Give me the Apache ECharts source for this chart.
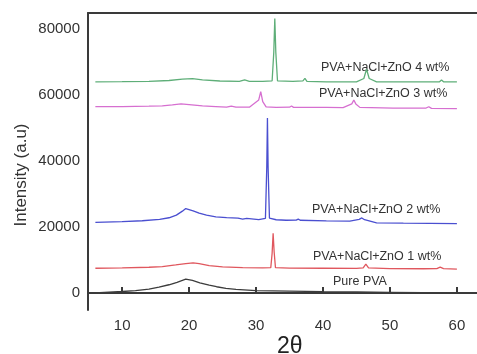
<!DOCTYPE html>
<html>
<head>
<meta charset="utf-8">
<script src="https://cdn.jsdelivr.net/npm/echarts@6/dist/echarts.min.js"></script>
<style>
  html, body { margin: 0; padding: 0; background: #fff; }
  #chart { width: 477px; height: 354px; }
</style>
</head>
<body>
<div id="chart"></div>
<script>
// XRD patterns, 2-theta vs intensity (offset stacked as in the figure)
const xTicks = [10, 20, 30, 40, 50, 60]
const yTicks = [0, 20000, 40000, 60000, 80000]

const pvaTheta = [6, 8, 10, 12, 14, 15.5, 17, 18.2, 19.5, 20.5, 21.6, 23, 24.1, 25.5, 27, 30, 35, 40, 45, 50, 55, 60]
const pvaI = [0, 250, 450, 750, 1200, 1800, 2500, 3200, 4200, 3800, 3100, 2400, 1900, 1400, 1100, 750, 550, 400, 300, 200, 100, 0]

const zn1Theta = [6, 10, 14, 16, 18, 19.5, 20.6, 21.5, 23, 25, 28, 31, 32.2, 32.4, 32.55, 32.7, 32.9, 35, 40, 45, 46, 46.4, 46.8, 50, 55, 57, 57.5, 58, 60]
const zn1I = [7500, 7600, 7800, 8000, 8500, 8900, 9150, 8900, 8300, 7900, 7700, 7600, 7700, 12000, 18100, 12500, 7700, 7550, 7500, 7450, 7600, 8750, 7600, 7400, 7350, 7400, 7850, 7400, 7250]

const zn2Theta = [6, 10, 13, 15.6, 17, 18.1, 19, 19.5, 20.6, 21.5, 22.6, 24, 25.6, 27.3, 28, 28.6, 30.4, 31.4, 31.6, 31.7, 31.8, 32, 33, 34.5, 36, 36.3, 36.6, 40.5, 44, 45.4, 45.8, 46.2, 48, 52, 56, 60]
const zn2I = [21400, 21600, 21900, 22300, 22800, 23600, 24800, 25600, 24900, 24200, 23600, 23100, 22850, 22700, 22400, 22600, 22250, 22600, 38000, 53000, 38000, 22700, 22200, 22050, 22100, 22400, 22050, 21850, 21800, 22300, 22750, 22200, 21250, 21150, 21100, 21050]

const zn3Theta = [6, 10, 14, 16, 17.5, 18.8, 20, 22, 24, 25.6, 26.3, 27, 29, 30.4, 30.7, 31, 31.5, 33, 35, 35.3, 35.6, 38, 40.5, 43, 44.3, 44.6, 44.9, 45.5, 50.5, 55.4, 55.8, 56.2, 60]
const zn3I = [56450, 56500, 56600, 56700, 57000, 57300, 57100, 56700, 56500, 56350, 56650, 56300, 56300, 58500, 61000, 58000, 56400, 56250, 56300, 56650, 56250, 56250, 56250, 56200, 57300, 58500, 57300, 56250, 56050, 56050, 56450, 55950, 55850]

const zn4Theta = [6, 10, 14, 17, 19, 20.5, 22, 24.6, 27.5, 28.3, 29, 31, 32.4, 32.65, 32.8, 32.95, 33.2, 35.5, 37, 37.3, 37.6, 40.5, 45, 46.1, 46.5, 46.9, 48, 50.5, 55, 57.4, 57.7, 58, 60]
const zn4I = [64000, 64050, 64150, 64400, 64800, 64950, 64600, 64250, 64150, 64550, 64150, 64150, 64300, 73000, 83200, 73000, 64300, 64150, 64300, 65050, 64150, 64000, 64000, 65000, 67800, 65000, 64000, 63950, 63950, 64000, 64550, 64000, 63950]

const seriesNames = ['Pure PVA', 'PVA+NaCl+ZnO 1 wt%', 'PVA+NaCl+ZnO 2 wt%', 'PVA+NaCl+ZnO 3 wt%', 'PVA+NaCl+ZnO 4 wt%']

const pairs = (xs, ys) => xs.map((x, i) => [x, ys[i]])

const chart = echarts.init(document.getElementById('chart'), null, { renderer: 'canvas' })
const font = 'Liberation Sans, Arial, sans-serif'
const axisColor = '#3a3a3a'

const line = (name, data, color) => ({
  name,
  type: 'line',
  data,
  showSymbol: false,
  smooth: false,
  lineStyle: { color, width: 1.3 },
  z: 3
})

const label = (text, left, top) => ({
  type: 'text',
  left, top,
  style: { text, fill: '#333', font: '12.5px ' + font }
})

const option = {
  animation: false,
  backgroundColor: '#fff',
  grid: { left: 88, top: 13, right: 0, bottom: 44 },
  xAxis: [{
    type: 'value',
    min: 4.9,
    max: 63,
    axisLine: { lineStyle: { color: axisColor, width: 2 } },
    axisTick: { inside: true, length: 6, customValues: xTicks, lineStyle: { color: axisColor, width: 2 } },
    axisLabel: { customValues: xTicks, color: '#333', fontSize: 15, fontFamily: font, margin: 8 },
    splitLine: { show: false }
  }, {
    type: 'value',
    position: 'top',
    min: 4.9,
    max: 63,
    axisLine: { show: true, lineStyle: { color: axisColor, width: 2 } },
    axisTick: { show: false },
    axisLabel: { show: false },
    splitLine: { show: false }
  }],
  yAxis: {
    type: 'value',
    min: -5150,
    max: 84850,
    axisLine: { show: true, lineStyle: { color: axisColor, width: 2 } },
    axisTick: { show: false },
    axisLabel: {
      customValues: yTicks,
      formatter: v => String(v),
      color: '#333', fontSize: 15, fontFamily: font, margin: 8
    },
    splitLine: { show: false }
  },
  series: [
    line(seriesNames[0], pairs(pvaTheta, pvaI), '#3c3c3c'),
    line(seriesNames[1], pairs(zn1Theta, zn1I), '#e0575e'),
    line(seriesNames[2], pairs(zn2Theta, zn2I), '#4a4fd0'),
    line(seriesNames[3], pairs(zn3Theta, zn3I), '#d66fd0'),
    line(seriesNames[4], pairs(zn4Theta, zn4I), '#5eae78')
  ],
  graphic: [
    label(seriesNames[4], 321, 61),
    label(seriesNames[3], 319, 87),
    label(seriesNames[2], 312, 203),
    label(seriesNames[1], 313, 250),
    label(seriesNames[0], 333, 275),
    {
      type: 'text',
      left: 277, top: 335,
      style: { text: '2θ', fill: '#222', font: '23px ' + font }
    },
    {
      type: 'text',
      x: 21, y: 175,
      rotation: Math.PI / 2,
      style: { text: 'Intensity (a.u)', fill: '#333', font: '17px ' + font, align: 'center', verticalAlign: 'middle' }
    }
  ]
}

chart.setOption(option)
</script>
</body>
</html>
